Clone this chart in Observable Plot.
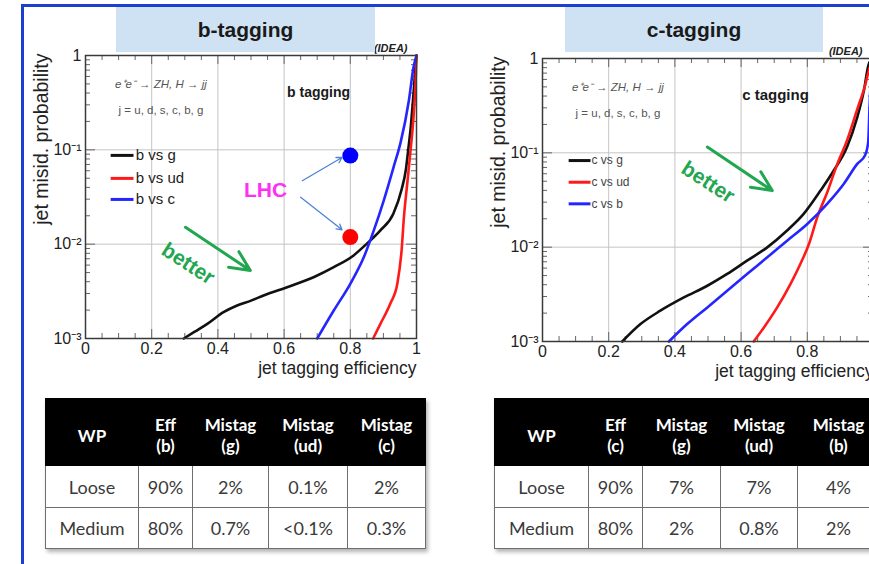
<!DOCTYPE html>
<html>
<head>
<meta charset="utf-8">
<script src="https://cdn.jsdelivr.net/npm/d3@7"></script>
<script src="https://cdn.jsdelivr.net/npm/@observablehq/plot@0.6"></script>
<style>
  html, body { margin: 0; padding: 0; background: #fff; overflow: hidden; }
  #page { position: relative; width: 869px; height: 564px; overflow: hidden; background: #fff;
          font-family: "Liberation Sans", Arial, sans-serif; }
  .chart { position: absolute; top: 0; }
  .chart svg { overflow: visible; background: transparent; max-width: none; }
  .slideframe { position: absolute; left: 21px; top: 4px; width: 1000px; height: 700px;
                border-left: 3px solid #1c3fd2; border-top: 3px solid #1c3fd2; z-index: 5; pointer-events: none; }
  .banner { position: absolute; top: 7px; height: 45px; background: #cfe2f3; z-index: 3;
            display: flex; align-items: center; justify-content: center;
            font: bold 21px "Liberation Sans", Arial, sans-serif; color: #1a1a1a; }
  table.wp { position: absolute; top: 398px; border-collapse: collapse; table-layout: fixed;
             font-family: Lato, "Open Sans", sans-serif; box-shadow: 2px 3px 4px rgba(0,0,0,0.3); z-index: 2; }
  table.wp th { background: #000; color: #fff; font-weight: bold; font-size: 17px; line-height: 21px;
                height: 67px; padding: 6px 0 0 0; box-sizing: border-box; text-align: center; vertical-align: middle;
                border: 1.5px solid #000; white-space: pre-line; }
  table.wp td { background: #fff; color: #3a3a3a; font-size: 18px; text-align: center; vertical-align: middle;
                border: 1.5px solid #6e6e6e; padding: 0; box-sizing: border-box; }
</style>
</head>
<body>
<div id="page">
  <div id="leftChart" class="chart" style="left:0px"></div>
  <div id="rightChart" class="chart" style="left:440px"></div>
  <div class="banner" id="bannerL" style="left:116px;width:259px"></div>
  <div class="banner" id="bannerR" style="left:565px;width:258px"></div>
  <div class="slideframe"></div>
</div>
<script>
// ---------------- data ----------------
const panelTitles = ["b-tagging", "c-tagging"];
const tagTitles = ["b tagging", "c tagging"];
const processText = "e\u207Ae\u207B \u2192 ZH, H \u2192 jj";
const jetText = "j = u, d, s, c, b, g";
const detectorText = "(IDEA)";
const xLabel = "jet tagging efficiency";
const yLabel = "jet misid. probability";

const effTicks = [0, 0.2, 0.4, 0.6, 0.8, 1];
const effTickLabels = ["0", "0.2", "0.4", "0.6", "0.8", "1"];
const probTicks = [0.001, 0.01, 0.1, 1];
const probTickLabels = ["10\u207B\u00B3", "10\u207B\u00B2", "10\u207B\u00B9", "1"];
const gridEff = [0.2, 0.4, 0.6, 0.8];
const gridProb = [0.01, 0.1];

// b-tagging ROC curves: [efficiency, mis-id probability]
const bSeriesNames = ["b vs g", "b vs ud", "b vs c"];
const bVsG = [[0.297,0.001],[0.33,0.00118],[0.368,0.00143],[0.417,0.0019],[0.458,0.00224],[0.50,0.00252],
  [0.538,0.00286],[0.609,0.0035],[0.689,0.00446],[0.75,0.0057],[0.81,0.0076],[0.851,0.0102],[0.891,0.014],
  [0.93,0.021],[0.955,0.038],[0.968,0.062],[0.975,0.1],[0.983,0.18],[0.989,0.32],[0.994,0.55],[0.998,0.85],[1,1]];
const bVsUd = [[0.869,0.001],[0.891,0.00143],[0.921,0.00235],[0.942,0.0038],[0.955,0.0086],[0.962,0.0193],
  [0.972,0.0437],[0.982,0.0986],[0.991,0.222],[0.997,0.5],[1,1]];
const bVsC = [[0.70,0.001],[0.75,0.00198],[0.80,0.0038],[0.841,0.0073],[0.871,0.014],[0.901,0.029],
  [0.931,0.066],[0.952,0.12],[0.977,0.334],[0.991,0.75],[1,1]];
// LHC reference points (b-tagging panel)
const lhcLabel = "LHC";
const lhcEff = [0.8, 0.8];
const lhcMis = [0.087, 0.0119];

// c-tagging ROC curves
const cSeriesNames = ["c vs g", "c vs ud", "c vs b"];
const cVsG = [[0.241,0.001],[0.296,0.00153],[0.356,0.00212],[0.427,0.00293],[0.498,0.0039],[0.558,0.0052],
  [0.618,0.0072],[0.679,0.00995],[0.739,0.015],[0.789,0.0225],[0.84,0.0398],[0.88,0.0649],[0.92,0.115],
  [0.951,0.239],[0.971,0.458],[0.986,0.88],[1,1]];
const cVsUd = [[0.638,0.001],[0.669,0.00141],[0.709,0.0023],[0.749,0.00406],[0.779,0.00664],[0.805,0.0108],
  [0.83,0.0207],[0.86,0.038],[0.89,0.075],[0.92,0.135],[0.951,0.29],[0.976,0.54],[0.986,0.75],[1,1]];
const cVsB = [[0.382,0.001],[0.437,0.00153],[0.498,0.0023],[0.558,0.00345],[0.618,0.0052],[0.679,0.0078],
  [0.739,0.0117],[0.80,0.0176],[0.86,0.0288],[0.91,0.0468],[0.951,0.0764],[0.975,0.095],[0.984,0.13],
  [0.988,0.3],[0.993,0.7],[1,1]];

const betterLabel = "better";

// working-point tables
const bHeader = ["WP", "Eff\n(b)", "Mistag\n(g)", "Mistag\n(ud)", "Mistag\n(c)"];
const bRows = [["Loose", "90%", "2%", "0.1%", "2%"], ["Medium", "80%", "0.7%", "<0.1%", "0.3%"]];
const cHeader = ["WP", "Eff\n(c)", "Mistag\n(g)", "Mistag\n(ud)", "Mistag\n(b)"];
const cRows = [["Loose", "90%", "7%", "7%", "4%"], ["Medium", "80%", "2%", "0.8%", "2%"]];

// ---------------- styles / layout ----------------
const curveColors = ["#111111", "#ff1a1a", "#2525ff"];
const green = "#22a650";
const FW = 331, FH = 283;

function minorLog() {
  const out = [];
  for (const k of [-3, -2, -1]) for (let m = 2; m <= 9; m++) out.push(m * Math.pow(10, k));
  return out;
}
function minorLin() {
  const out = [];
  for (let i = 1; i < 20; i++) if (i % 4 !== 0) out.push(i * 0.05);
  return out;
}

function chart(cfg) {
  const toObj = arr => arr.map(([eff, p]) => ({eff, p}));
  const marks = [
    Plot.ruleX(gridEff, {stroke: "#c4c4c4", strokeWidth: 1}),
    Plot.ruleY(gridProb, {stroke: "#c4c4c4", strokeWidth: 1}),
    Plot.tickX(minorLin(), {insetTop: FH - 5, stroke: "#666"}),
    Plot.tickX(minorLin(), {insetBottom: FH - 5, stroke: "#666"}),
    Plot.tickX(effTicks, {insetTop: FH - 9, stroke: "#666"}),
    Plot.tickX(effTicks, {insetBottom: FH - 9, stroke: "#666"}),
    Plot.tickY(minorLog(), {insetRight: FW - 5, stroke: "#666"}),
    Plot.tickY(minorLog(), {insetLeft: FW - 5, stroke: "#666"}),
    Plot.tickY(probTicks, {insetRight: FW - 10, stroke: "#666"}),
    Plot.tickY(probTicks, {insetLeft: FW - 10, stroke: "#666"}),
    Plot.axisX({ticks: effTicks, tickSize: 0, tickPadding: 4, fontSize: 16, label: null,
      tickFormat: d => effTickLabels[effTicks.indexOf(d)]}),
    Plot.axisY({ticks: probTicks, tickSize: 0, tickPadding: 4, fontSize: 16, label: null,
      tickFormat: d => probTickLabels[probTicks.indexOf(d)]}),
    Plot.text([xLabel], {frameAnchor: "bottom-right", textAnchor: "end", dy: 35, fontSize: 17.5, fill: "#222"}),
    Plot.text([yLabel], {frameAnchor: "top-left", textAnchor: "end", rotate: -90, dx: cfg.ylabDx, dy: -2,
      fontSize: 19.5, fill: "#222"}),
    Plot.text([detectorText], {frameAnchor: "top-right", textAnchor: "end", dx: cfg.ideaDx, dy: -11,
      fontSize: 11, fontWeight: "bold", fontStyle: "italic", fill: "#222"}),
    Plot.text([processText], {x: 0.228, y: 0.5, fontSize: 11.5, fontStyle: "italic", fill: "#555"}),
    Plot.text([jetText], {x: 0.228, y: 0.26, fontSize: 11.5, fill: "#555"}),
    Plot.text([cfg.tag], {x: 0.704, y: 0.406, fontSize: cfg.tagSize, fontWeight: "bold", fill: "#1a1a1a"})
  ];
  // legend
  cfg.names.forEach((name, i) => {
    const ly = cfg.legendY[i];
    marks.push(Plot.link([name], {x1: cfg.legendX[0], x2: cfg.legendX[1], y1: ly, y2: ly,
      stroke: curveColors[i], strokeWidth: 3}));
    marks.push(Plot.text([name], {x: cfg.legendX[2], y: ly, textAnchor: "start", fontSize: cfg.legendSize,
      fill: cfg.legendFill}));
  });
  // better arrow
  marks.push(Plot.arrow([0], {x1: cfg.better.x1, y1: cfg.better.y1, x2: cfg.better.x2, y2: cfg.better.y2,
    stroke: green, strokeWidth: 3, headLength: 11, headAngle: 50}));
  marks.push(Plot.text([betterLabel], {x: cfg.better.tx, y: cfg.better.ty, rotate: 33, fontSize: 21,
    fontWeight: "bold", fill: green}));
  if (cfg.lhc) {
    marks.push(Plot.text([lhcLabel], {x: 0.544, y: 0.037, fontSize: 21, fontWeight: "bold", fill: "#ff30f0"}));
    marks.push(Plot.arrow([0], {x1: 0.655, y1: 0.047, x2: 0.775, y2: 0.083, stroke: "#4f83d8", strokeWidth: 1.3, headLength: 7}));
    marks.push(Plot.arrow([0], {x1: 0.65, y1: 0.0315, x2: 0.775, y2: 0.0142, stroke: "#4f83d8", strokeWidth: 1.3, headLength: 7}));
    marks.push(Plot.dot(lhcEff.map((e, i) => ({eff: e, p: lhcMis[i], i})),
      {x: "eff", y: "p", r: 8, fill: d => d.i === 0 ? "#0000ff" : "#ff0000", stroke: "none"}));
  }
  // curves
  cfg.curves.forEach((c, i) => {
    marks.push(Plot.line(toObj(c), {x: "eff", y: "p", stroke: curveColors[i], strokeWidth: 2.6,
      curve: "monotone-x"}));
  });
  marks.push(Plot.frame({stroke: "#3a3a3a", strokeWidth: 1.5}));

  return Plot.plot({
    width: cfg.width, height: 390,
    marginLeft: cfg.ml, marginRight: cfg.width - cfg.ml - FW, marginTop: cfg.mt, marginBottom: 390 - cfg.mt - FH,
    x: {domain: [0, 1]},
    y: {type: "log", domain: [0.001, 1]},
    color: {type: "identity"},
    style: {fontFamily: "'Liberation Sans', Arial, sans-serif", color: "#222", background: "transparent", overflow: "visible"},
    marks
  });
}

document.getElementById("leftChart").appendChild(chart({
  width: 440, ml: 85, mt: 55, ylabDx: -51, ideaDx: -9,
  tag: tagTitles[0], tagSize: 14,
  names: bSeriesNames, curves: [bVsG, bVsUd, bVsC],
  legendX: [0.076, 0.145, 0.152], legendY: [0.0873, 0.0498, 0.0298], legendSize: 15, legendFill: "#222",
  better: {x1: 0.302, y1: 0.0151, x2: 0.498, y2: 0.00526, tx: 0.31, ty: 0.0062},
  lhc: true
}));
document.getElementById("rightChart").appendChild(chart({
  width: 460, ml: 102, mt: 58, ylabDx: -51, ideaDx: -11,
  tag: tagTitles[1], tagSize: 15,
  names: cSeriesNames, curves: [cVsG, cVsUd, cVsB],
  legendX: [0.079, 0.145, 0.148], legendY: [0.0828, 0.0488, 0.0288], legendSize: 12, legendFill: "#444",
  better: {x1: 0.498, y1: 0.115, x2: 0.694, y2: 0.0398, tx: 0.50, ty: 0.0488},
  lhc: false
}));

document.getElementById("bannerL").textContent = panelTitles[0];
document.getElementById("bannerR").textContent = panelTitles[1];

function makeTable(header, rows, left, widths) {
  const t = document.createElement("table");
  t.className = "wp";
  t.style.left = left + "px";
  t.style.width = widths.reduce((a, b) => a + b, 0) + "px";
  const cg = document.createElement("colgroup");
  widths.forEach(w => { const c = document.createElement("col"); c.style.width = w + "px"; cg.appendChild(c); });
  t.appendChild(cg);
  const hr = document.createElement("tr");
  header.forEach(h => { const th = document.createElement("th"); th.textContent = h; hr.appendChild(th); });
  t.appendChild(hr);
  rows.forEach((r, ri) => {
    const tr = document.createElement("tr");
    r.forEach(v => { const td = document.createElement("td"); td.textContent = v; td.style.height = (ri === 0 ? 42 : 41) + "px"; tr.appendChild(td); });
    t.appendChild(tr);
  });
  document.getElementById("page").appendChild(t);
}
makeTable(bHeader, bRows, 45, [93, 54, 76, 79, 78]);
makeTable(cHeader, cRows, 494, [94, 54, 78, 77, 82]);
</script>
</body>
</html>
